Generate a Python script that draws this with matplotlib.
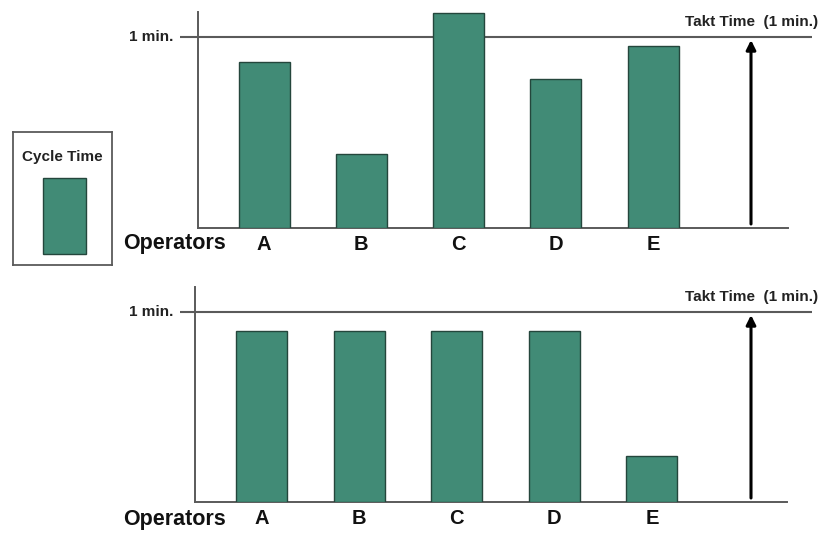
import matplotlib
matplotlib.use('Agg')
from matplotlib import pyplot as plt
from matplotlib.patches import Rectangle

plt.rcParams['font.family'] = ['Liberation Sans', 'DejaVu Sans']

operators = ['A', 'B', 'C', 'D', 'E']
cycle_before = [0.87, 0.39, 1.125, 0.78, 0.955]   # minutes, unbalanced line
cycle_after = [0.90, 0.90, 0.90, 0.90, 0.24]      # minutes, after rebalancing
takt = 1.0

W, H = 828, 536
bar_face = '#418b76'
bar_edge = '#24463c'
line_col = '#5a5a5a'

fig = plt.figure(figsize=(W / 100, H / 100), dpi=100)
fig.patch.set_facecolor('white')


def draw_panel(values, x_a, dx, base, unit, axis_x, axis_top, base_end, label_y):
    # axes box in pixels, converted to figure fractions
    left, right, top = 170, 824, 4
    ax = fig.add_axes([left / W, 1 - base / H, (right - left) / W, (base - top) / H])
    px = lambda p: (p - x_a) / dx
    ax.set_xlim(px(left), px(right))
    ax.set_ylim(0, (base - top) / unit)
    ax.patch.set_alpha(0)

    ax.bar(range(len(values)), values, width=51 / dx, color=bar_face,
           edgecolor=bar_edge, linewidth=1.0, zorder=3)

    for s in ['top', 'right']:
        ax.spines[s].set_visible(False)
    ax.spines['left'].set_position(('data', px(axis_x)))
    ax.spines['left'].set_bounds(0, (base - axis_top) / unit)
    ax.spines['bottom'].set_bounds(px(axis_x), px(base_end))
    for s in ['left', 'bottom']:
        ax.spines[s].set_color(line_col)
        ax.spines[s].set_linewidth(1.4)
    ax.set_xticks([])
    ax.set_yticks([])

    # takt line
    ax.hlines(takt, px(180), px(812), color=line_col, linewidth=1.5, zorder=2)
    ax.text(px(173), takt, '1 min.', ha='right', va='center', fontsize=11,
            fontweight='bold', color='#222222')
    ax.text(px(818), takt + 15 / unit, 'Takt Time  (1 min.)', ha='right',
            va='center', fontsize=11, fontweight='bold', color='#222222')
    ax.annotate('', xy=(px(751), takt - 3 / unit), xytext=(px(751), 4 / unit),
                arrowprops=dict(arrowstyle='-|>', color='black', lw=2.2,
                                mutation_scale=14, shrinkA=0, shrinkB=0))

    ly = -(label_y - base) / unit
    ax.text(px(226), ly, 'Operators', ha='right', va='center', fontsize=15.5,
            fontweight='bold', color='#111111', clip_on=False)
    for i, name in enumerate(operators):
        ax.text(i, ly, name, ha='center', va='center', fontsize=14.5,
                fontweight='bold', color='#111111', clip_on=False)
    return ax


draw_panel(cycle_before, x_a=264, dx=97.3, base=228, unit=191,
           axis_x=198, axis_top=12, base_end=788, label_y=244)
draw_panel(cycle_after, x_a=261.5, dx=97.6, base=502, unit=190,
           axis_x=195, axis_top=287, base_end=787, label_y=519)

# legend box on the left
lg = fig.add_axes([13 / W, 1 - 265 / H, 99 / W, 133 / H])
lg.set_xlim(0, 99)
lg.set_ylim(133, 0)
lg.set_xticks([])
lg.set_yticks([])
for s in lg.spines.values():
    s.set_color(line_col)
    s.set_linewidth(1.3)
lg.text(49.5, 25, 'Cycle Time', ha='center', va='center', fontsize=11,
        fontweight='bold', color='#222222')
lg.add_patch(Rectangle((30, 46), 43, 76, facecolor=bar_face,
                       edgecolor=bar_edge, linewidth=1.0))

fig.savefig('out.png', dpi=100, facecolor='white')
